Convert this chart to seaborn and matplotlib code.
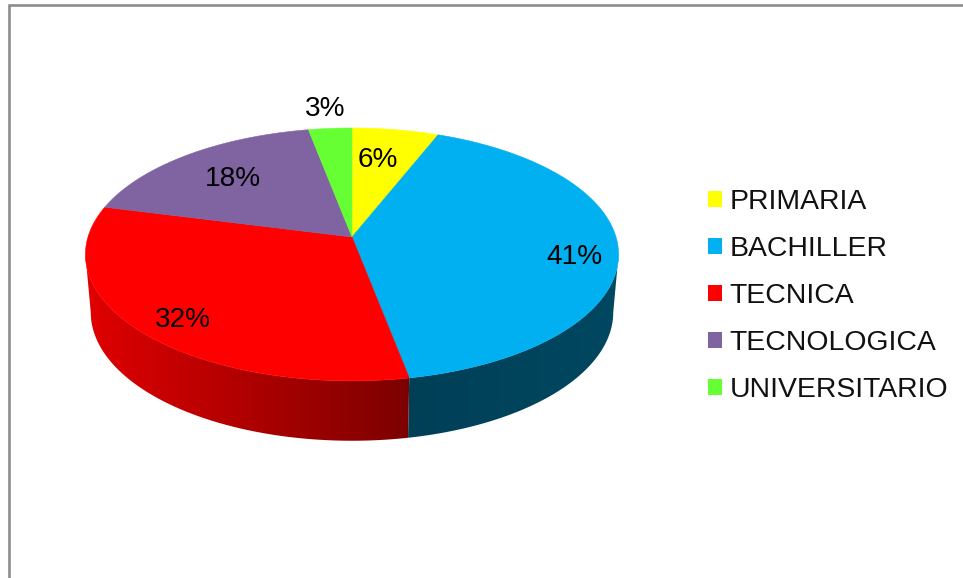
import numpy as np
import matplotlib
matplotlib.use('Agg')
import matplotlib.pyplot as plt
from matplotlib.patches import Patch, Polygon
import seaborn as sns

# Chart data
categories = ['PRIMARIA', 'BACHILLER', 'TECNICA', 'TECNOLOGICA', 'UNIVERSITARIO']
percent = [6, 41, 32, 18, 3]
colors = ['#FFFF00', '#00B0F0', '#FF0000', '#8064A2', '#66FF33']

# Where the percent labels sit, in pixels
label_xy = [(378, 160), (574, 257), (183, 320), (233, 179), (325, 109)]

sns.set_theme(style='white')
plt.rcParams['font.family'] = ['Liberation Sans', 'DejaVu Sans']
palette = sns.color_palette(colors)

# Perspective of the disc: apex sits above the centre of the ellipse
CX, APEX_Y, K, A, C = 352, 237, 264, -91.3, 0.138
RIM_Y, BOTTOM_Y = 255, 313
# Angles of the widest points of the disc, the wall ends there
SIDE_R, SIDE_L = 98, 262


def project(angle, r=1.0):
    # angle in degrees, clockwise from the top
    rad = np.radians(angle)
    x, t = r * np.sin(rad), r * np.cos(rad)
    w = 1 + C * t
    return CX + K * x / w, (APEX_Y + A * t) / w


def bottom_rim(angle):
    x, y = project(angle)
    return CX + (x - CX) * 0.98, BOTTOM_Y + (y - RIM_Y) * 1.015


def wall(ax, start, stop, c_left, c_right):
    # side of the disc: horizontal gradient clipped to the wall outline
    angles = np.linspace(max(start, SIDE_R), min(stop, SIDE_L), 200)
    tx, ty = project(angles)
    bx, by = bottom_rim(angles)
    outline = np.c_[np.r_[tx, bx[::-1]], np.r_[ty, by[::-1]]]
    lo, hi = outline[:, 0].min(), outline[:, 0].max()
    ramp = np.linspace(0, 1, 256)[None, :, None]
    grad = np.array(c_left)[None, None, :] * (1 - ramp) + np.array(c_right)[None, None, :] * ramp
    img = ax.imshow(grad, extent=(lo, hi, outline[:, 1].max(), outline[:, 1].min()),
                    aspect='auto', zorder=1, interpolation='bilinear')
    clip = Polygon(outline, transform=ax.transData)
    img.set_clip_path(clip)


fig = plt.figure(figsize=(9.63, 5.78), dpi=100)
ax = fig.add_axes([0, 0, 1, 1])
ax.axis('off')

# Frame of the original sheet
ax.plot([8.6, 8.6, 963], [578, 5.3, 5.3], color='#8c8c8c', lw=1.9, solid_joinstyle='miter')

edges = np.cumsum([0] + percent) * 3.6

# Side walls (only blue and red slices show)
wall(ax, edges[1], edges[2], (0, 0.25, 0.34), (0, 0.28, 0.38))
wall(ax, edges[2], edges[3], (0.88, 0, 0), (0.49, 0, 0))

# Top face
for i, col in enumerate(palette):
    a = np.linspace(edges[i], edges[i + 1], 120)
    x, y = project(a)
    ax.fill(np.r_[CX, x], np.r_[APEX_Y, y], color=col, lw=0.4, zorder=2)

for pct, (lx, ly) in zip(percent, label_xy):
    ax.text(lx, ly, f'{pct}%', fontsize=20.2, color='black', ha='center', va='center', zorder=3)

ax.set_xlim(0, 963)
ax.set_ylim(578, 0)

handles = [Patch(facecolor=c, edgecolor='none') for c in palette]
ax.legend(handles, categories, loc='upper left', bbox_to_anchor=(707.5 / 963, 1 - 189 / 578),
          frameon=False, fontsize=20.4, labelcolor='#111111', borderpad=0, borderaxespad=0,
          handlelength=0.52, handleheight=0.52, handletextpad=0.26, labelspacing=0.74)

fig.savefig('out.png', dpi=100)
